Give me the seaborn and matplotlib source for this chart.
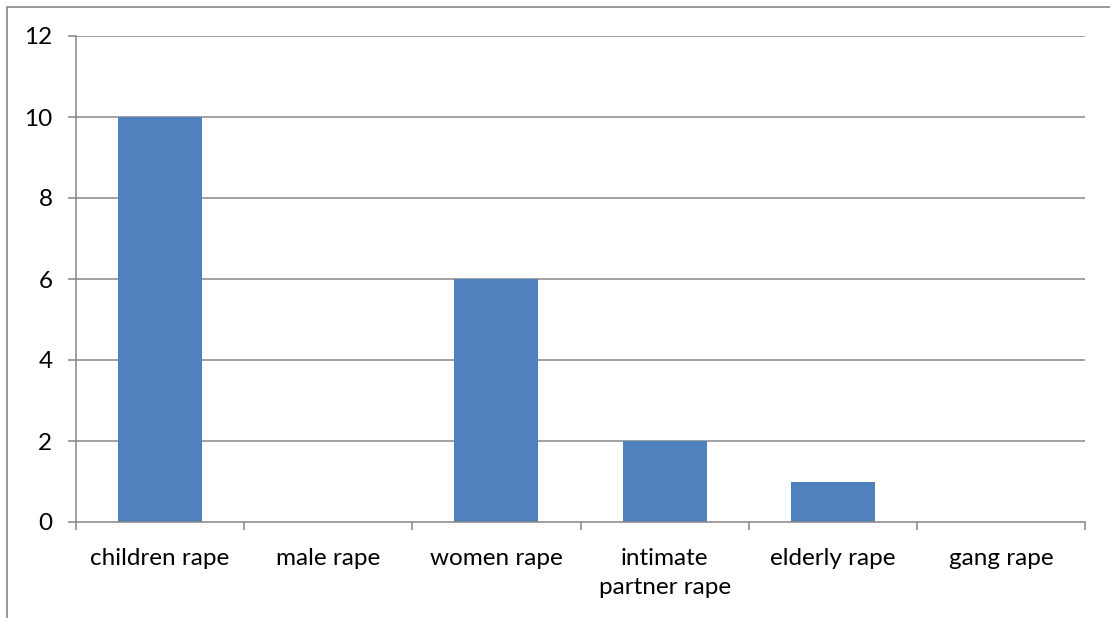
import matplotlib
matplotlib.use("Agg")
import matplotlib.pyplot as plt
import seaborn as sns
import pandas as pd
from matplotlib.patches import Rectangle

categories = ["children rape", "male rape", "women rape",
              "intimate\npartner rape", "elderly rape", "gang rape"]
counts = [10, 0, 6, 2, 1, 0]
y_ticks = [0, 2, 4, 6, 8, 10, 12]

df = pd.DataFrame({"category": categories, "count": counts})

sns.set_theme(style="white")
plt.rcParams["font.family"] = ["Lato", "DejaVu Sans"]

grid_grey = "#868686"
fig = plt.figure(figsize=(11.1, 6.18), dpi=100)
ax = fig.add_axes([76 / 1110, 1 - 522 / 618, (1085 - 76) / 1110, (522 - 36) / 618])

sns.barplot(data=df, x="category", y="count", color="#4F81BD",
            saturation=1, width=0.5, linewidth=0, ax=ax)

ax.set_ylim(0, 12)
ax.set_xlim(-0.5, len(categories) - 0.5)
ax.set_yticks(y_ticks)
ax.set_yticklabels([str(v) for v in y_ticks])
for v in y_ticks[1:]:
    ax.axhline(v, color=grid_grey, lw=1.1, zorder=0)

ax.set_xlabel("")
ax.set_ylabel("")
for side in ["top", "right"]:
    ax.spines[side].set_visible(False)
for side in ["left", "bottom"]:
    ax.spines[side].set_color(grid_grey)
    ax.spines[side].set_linewidth(1.1)

# category boundary ticks hang below the axis
ax.set_xticks([i - 0.5 for i in range(len(categories) + 1)], minor=True)
ax.tick_params(axis="x", which="minor", direction="out", length=6,
               width=1.1, color=grid_grey, bottom=True)
ax.tick_params(axis="x", which="major", length=0, pad=19,
               labelsize=17.5, labelcolor="black")
ax.tick_params(axis="y", direction="out", length=6, width=1.1,
               color=grid_grey, left=True, pad=11,
               labelsize=17.5, labelcolor="black")
for lbl in ax.get_xticklabels():
    lbl.set_linespacing(1.45)

# outer chart frame
fig.patches.append(Rectangle((7 / 1110, -0.05), 1.2, 1 - 7 / 618 + 0.05,
                             transform=fig.transFigure, fill=False,
                             edgecolor=grid_grey, lw=1.2))

fig.savefig("out.png", dpi=100)
